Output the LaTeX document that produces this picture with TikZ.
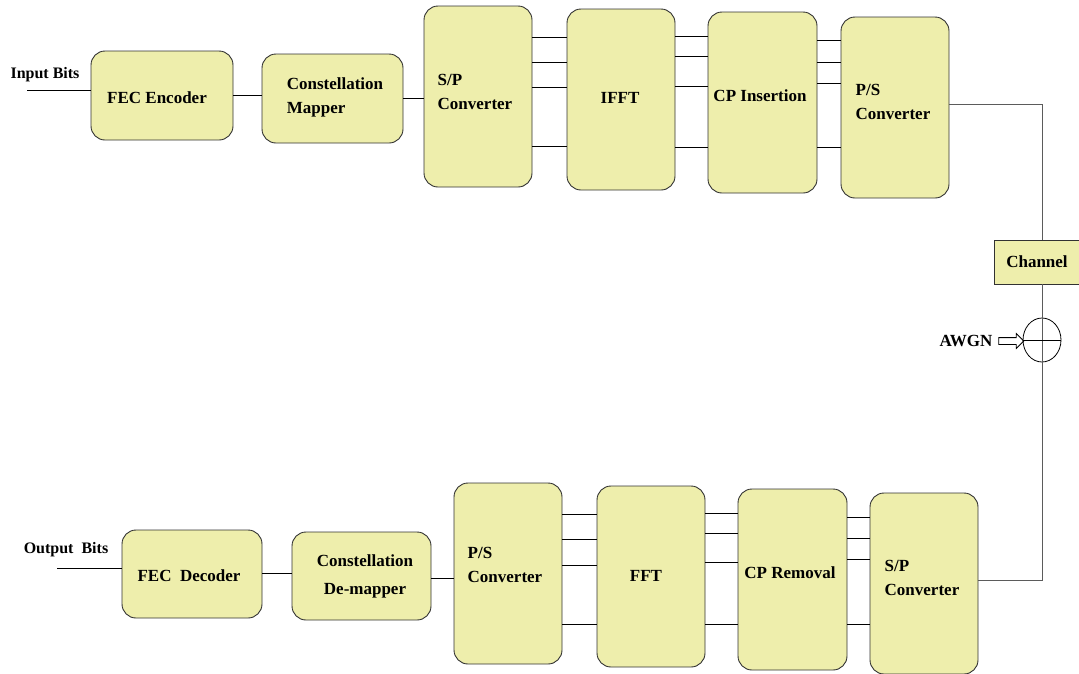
\documentclass[tikz,border=0pt]{standalone}
\usepackage{fontspec}
\setmainfont{Liberation Serif}
\usetikzlibrary{shapes.geometric,shapes.arrows}
\definecolor{boxfill}{RGB}{238,238,172}
\definecolor{edge}{RGB}{50,50,50}
\tikzset{
  blk/.style={draw=edge, line width=0.9pt, fill=boxfill, rounded corners=14pt, inner sep=0pt, align=left},
  txt/.style={inner sep=0pt, align=left, font=\fontsize{17}{24}\selectfont\bfseries},
  wire/.style={draw=black, line width=0.9pt},
  gwire/.style={draw=edge!80, line width=1pt}
}
\begin{document}
\begin{tikzpicture}[x=1pt,y=-1pt]
\useasboundingbox (0,0) rectangle (1079,673);
% top chain
\node[blk, minimum width=142, minimum height=89] (fec) at (162,95.5) {};
\node[txt] at (157,98) {FEC Encoder};
\node[blk, minimum width=141, minimum height=89] (cm) at (332.5,98.5) {};
\node[txt] at (335,97) {Constellation\\Mapper};
\node[blk, minimum width=108, minimum height=181] (sp) at (478,96.5) {};
\node[txt] at (475,92) {S/P\\Converter};
\node[blk, minimum width=108, minimum height=181] (ifft) at (621,99.5) {};
\node[txt] at (620,98) {IFFT};
\node[blk, minimum width=109, minimum height=181] (cpi) at (762.5,102.5) {};
\node[txt] at (760,96) {CP Insertion};
\node[blk, minimum width=108, minimum height=181] (ps) at (895,107.5) {};
\node[txt] at (893,102) {P/S\\Converter};
% channel and noise
\node[draw=edge, line width=0.9pt, fill=boxfill, minimum width=85, minimum height=44, inner sep=0pt,
      font=\fontsize{17}{19}\selectfont\bfseries] (chan) at (1037,262) {Channel};
\node[draw=black, ellipse, minimum width=38, minimum height=44, inner sep=0pt, line width=0.8pt] (sum) at (1042,340) {};
\node[txt] (awgn) at (966,341) {AWGN};
\node[draw=black, single arrow, single arrow head extend=4pt, single arrow head indent=0pt,
      minimum height=25, inner sep=3pt, line width=0.8pt] (arr) at (1009.5,341) {};
% bottom chain
\node[blk, minimum width=140, minimum height=88] (fecd) at (192,574) {};
\node[txt] at (189,576) {FEC~~Decoder};
\node[blk, minimum width=139, minimum height=88] (cd) at (361.5,576) {};
\node[txt, align=center] at (365,576) {Constellation\\[4pt]De-mapper};
\node[blk, minimum width=108, minimum height=181] (ps2) at (508,573.5) {};
\node[txt] at (505,565) {P/S\\Converter};
\node[blk, minimum width=108, minimum height=181] (fft) at (651,576.5) {};
\node[txt] at (646,576) {FFT};
\node[blk, minimum width=109, minimum height=181] (cpr) at (792.5,579.5) {};
\node[txt] at (790,573) {CP Removal};
\node[blk, minimum width=108, minimum height=181] (sp2) at (924,583.5) {};
\node[txt] at (922,578) {S/P\\Converter};
% labels
\node[txt, font=\fontsize{16}{18}\selectfont\bfseries] (inlbl) at (45,75) {Input Bits};
\node[txt, font=\fontsize{16}{18}\selectfont\bfseries] (outlbl) at (66,550) {Output~~Bits};
\coordinate (in) at (27,90);
\coordinate (out) at (57,568);
% top wires
\draw[wire] (in) -- (fec.west |- in);
\draw[wire] (fec.east |- 0,95) -- (cm.west |- 0,95);
\draw[wire] (cm.east |- 0,98) -- (sp.west |- 0,98);
\foreach \y in {37,62,87,146} \draw[wire] (sp.east |- 0,\y) -- (ifft.west |- 0,\y);
\foreach \y in {36,56,86,147} \draw[wire] (ifft.east |- 0,\y) -- (cpi.west |- 0,\y);
\foreach \y in {40,62,83,147} \draw[wire] (cpi.east |- 0,\y) -- (ps.west |- 0,\y);
\draw[gwire] (ps.east |- 0,104) -| (sum.center |- chan.north);
\draw[gwire] (sum.center |- chan.south) |- (sp2.east |- 0,580);
\draw[line width=0.8pt] (sum.west) -- (sum.east);
% bottom wires
\draw[wire] (out) -- (fecd.west |- out);
\draw[wire] (fecd.east |- 0,573) -- (cd.west |- 0,573);
\draw[wire] (cd.east |- 0,578) -- (ps2.west |- 0,578);
\foreach \y in {514,539,565,624} \draw[wire] (ps2.east |- 0,\y) -- (fft.west |- 0,\y);
\foreach \y in {513,533,562,624} \draw[wire] (fft.east |- 0,\y) -- (cpr.west |- 0,\y);
\foreach \y in {517,538,559,624} \draw[wire] (cpr.east |- 0,\y) -- (sp2.west |- 0,\y);
\end{tikzpicture}
\end{document}
